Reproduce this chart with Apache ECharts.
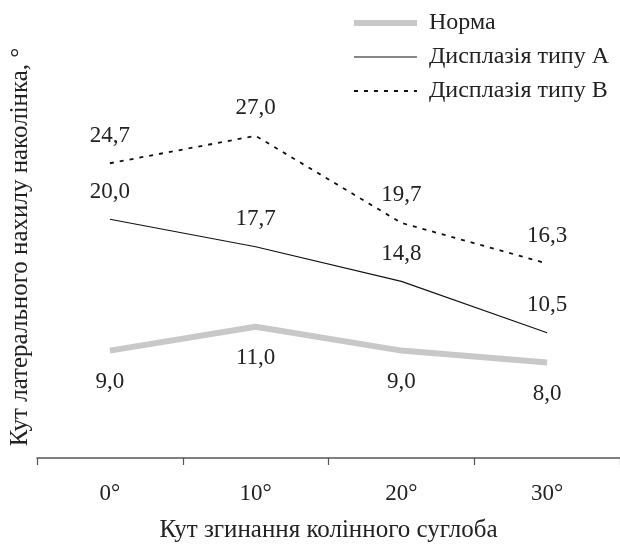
<!DOCTYPE html>
<html><head><meta charset="utf-8">
<script src="https://cdn.jsdelivr.net/npm/echarts@6/dist/echarts.min.js"></script>
<style>html,body{margin:0;padding:0;background:#fff}#c{width:620px;height:548px}</style>
</head><body><div id="c"></div>
<script>
const categories = ['0°', '10°', '20°', '30°'];
const normaValues = [9.0, 11.0, 9.0, 8.0];
const typeAValues = [20.0, 17.7, 14.8, 10.5];
const typeBValues = [24.7, 27.0, 19.7, 16.3];
const seriesNames = ['Норма', 'Дисплазія типу A', 'Дисплазія типу B'];
const xTitle = 'Кут згинання колінного суглоба';
const yTitle = 'Кут латерального нахилу наколінка, °';

const FONT = '"Liberation Serif", "DejaVu Serif", serif';
const fmt = p => p.value.toFixed(1).replace('.', ',');
const lbl = (pos, dist) => ({show: true, position: pos, distance: dist, formatter: fmt,
  fontFamily: FONT, fontSize: 23, color: '#222'});

const chart = echarts.init(document.getElementById('c'), null, {renderer: 'canvas'});
chart.setOption({
  animation: false,
  backgroundColor: '#fff',
  grid: {left: 32, right: 0, top: 100, bottom: 90, containLabel: false},
  legend: {
    orient: 'vertical', right: 6, top: 6, itemWidth: 63, itemHeight: 14, itemGap: 10,
    itemStyle: {opacity: 0},
    textStyle: {fontFamily: FONT, fontSize: 24, color: '#222', padding: [0,0,0,7]},
    data: [
      {name: seriesNames[0], lineStyle: {width: 6, color: '#c8c8c8'}},
      {name: seriesNames[1], lineStyle: {width: 1.2, color: '#111'}},
      {name: seriesNames[2], lineStyle: {width: 1.8, color: '#111', type: [4, 6]}}
    ]
  },
  xAxis: {
    type: 'category', data: categories, boundaryGap: true,
    axisLine: {lineStyle: {color: '#555', width: 1.5}},
    axisTick: {show: true, length: 7, lineStyle: {color: '#555', width: 1.2}},
    axisLabel: {fontFamily: FONT, fontSize: 23, color: '#222', margin: 24},
    name: xTitle, nameLocation: 'middle', nameGap: 60,
    nameTextStyle: {fontFamily: FONT, fontSize: 25, color: '#222'}
  },
  yAxis: {
    type: 'value', min: 0, max: 30,
    axisLine: {show: false}, axisTick: {show: false}, axisLabel: {show: false},
    splitLine: {show: false},
    name: yTitle, nameLocation: 'middle', nameGap: 4, nameRotate: 90,
    nameTextStyle: {fontFamily: FONT, fontSize: 25, color: '#222', padding: [0, 0, 0, 64]}
  },
  series: [
    {name: seriesNames[0], type: 'line', data: normaValues, symbol: 'circle', symbolSize: 0.01,
     lineStyle: {color: '#c8c8c8', width: 6}, itemStyle: {color: '#c8c8c8'},
     label: lbl('bottom', 20)},
    {name: seriesNames[1], type: 'line', data: typeAValues, symbol: 'circle', symbolSize: 0.01,
     lineStyle: {color: '#111', width: 1.1}, itemStyle: {color: '#111'},
     label: lbl('top', 16)},
    {name: seriesNames[2], type: 'line', data: typeBValues, symbol: 'circle', symbolSize: 0.01,
     lineStyle: {color: '#111', width: 1.8, type: [4, 6]}, itemStyle: {color: '#111'},
     label: lbl('top', 16)}
  ]
});
</script></body></html>
